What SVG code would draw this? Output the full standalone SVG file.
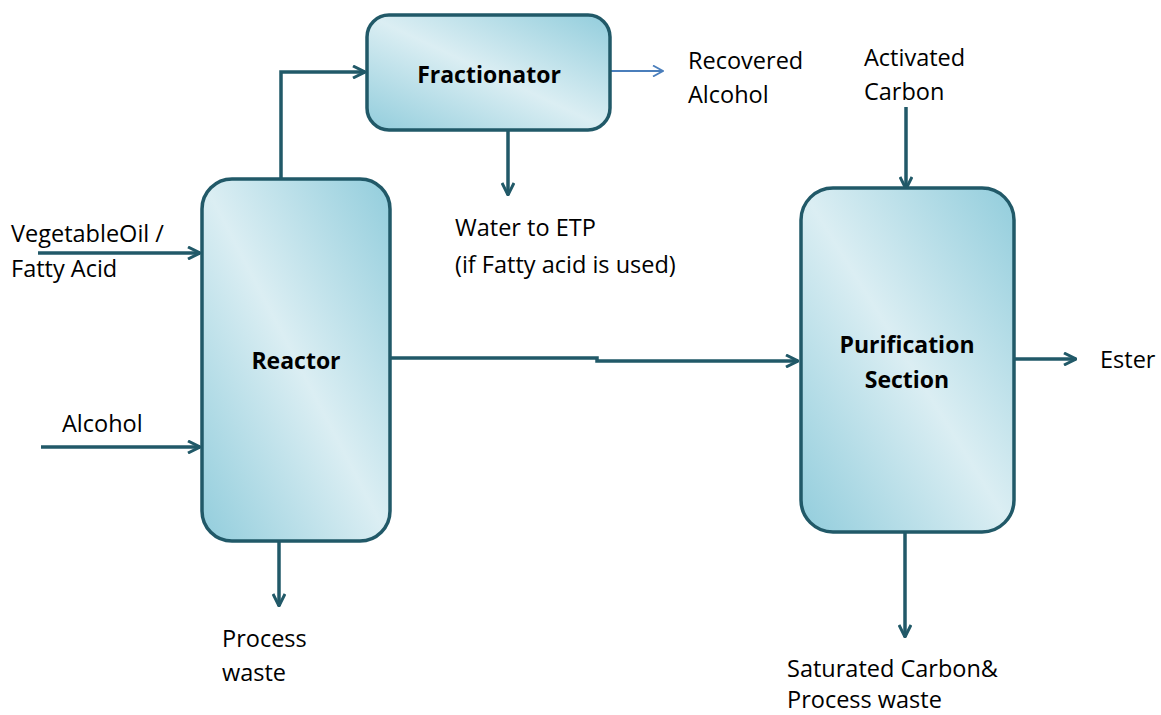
<svg xmlns="http://www.w3.org/2000/svg" width="1161" height="715" viewBox="0 0 1161 715">
<style>
.box{stroke:#215968;stroke-width:3.5}
.lbl{font-family:"Open Sans","Liberation Sans",sans-serif;font-size:23.5px;fill:#000}
.ttl{font-family:"Open Sans","Liberation Sans",sans-serif;font-size:23px;font-weight:bold;fill:#000;text-anchor:middle}
.c{fill:none;stroke:#215968;stroke-width:3.5}
.cb{fill:none;stroke:#4a7ebb;stroke-width:2}
</style>
<defs>
<linearGradient id="g" x1="1" y1="0" x2="0" y2="1">
<stop offset="0" stop-color="#92cddc"/>
<stop offset="0.5" stop-color="#dbeef3"/>
<stop offset="1" stop-color="#92cddc"/>
</linearGradient>
<marker id="a" viewBox="0 0 14 14" refX="13" refY="7" markerWidth="14" markerHeight="14" markerUnits="userSpaceOnUse" orient="auto">
<path d="M1 1 L13 7 L1 13" fill="none" stroke="#215968" stroke-width="3"/>
</marker>
<marker id="ab" viewBox="0 0 12 12" refX="11" refY="6" markerWidth="12" markerHeight="12" markerUnits="userSpaceOnUse" orient="auto">
<path d="M1 0.5 L11 6 L1 11.5" fill="none" stroke="#4a7ebb" stroke-width="1.8"/>
</marker>
</defs>
<g id="connectors">
<path class="c" d="M281 178 V72 H365" marker-end="url(#a)"/>
<path class="c" d="M508 130 V195" marker-end="url(#a)"/>
<path class="cb" d="M610 71 H663" marker-end="url(#ab)"/>
<path class="c" d="M38 253 H200" marker-end="url(#a)"/>
<path class="c" d="M41 447 H200" marker-end="url(#a)"/>
<path class="c" d="M390 358 H597 V361 H798" marker-end="url(#a)"/>
<path class="c" d="M279 541 V606" marker-end="url(#a)"/>
<path class="c" d="M906 107 V189" marker-end="url(#a)"/>
<path class="c" d="M1014 359 H1076" marker-end="url(#a)"/>
<path class="c" d="M905 532 V637" marker-end="url(#a)"/>
</g>
<g id="reactor">
<rect class="box" x="202" y="179" width="188" height="362" rx="30" fill="url(#g)"/>
<text class="ttl" x="296" y="369">Reactor</text>
</g>
<g id="fractionator">
<rect class="box" x="367" y="15" width="243" height="115" rx="22" fill="url(#g)"/>
<text class="ttl" x="489" y="83">Fractionator</text>
</g>
<g id="purification">
<rect class="box" x="801" y="188" width="213" height="344" rx="32" fill="url(#g)"/>
<text class="ttl" x="907" y="353">Purification</text>
<text class="ttl" x="907" y="388">Section</text>
</g>
<g id="labels">
<text class="lbl" x="688" y="69">Recovered</text>
<text class="lbl" x="688" y="103">Alcohol</text>
<text class="lbl" x="864" y="66">Activated</text>
<text class="lbl" x="864" y="100">Carbon</text>
<text class="lbl" x="455" y="236">Water to ETP</text>
<text class="lbl" x="455" y="273">(if Fatty acid is used)</text>
<text class="lbl" x="11" y="242">VegetableOil /</text>
<text class="lbl" x="11" y="277">Fatty Acid</text>
<text class="lbl" x="62" y="432">Alcohol</text>
<text class="lbl" x="1100" y="368">Ester</text>
<text class="lbl" x="222" y="647">Process</text>
<text class="lbl" x="222" y="681">waste</text>
<text class="lbl" x="787" y="677">Saturated Carbon&amp;</text>
<text class="lbl" x="787" y="708">Process waste</text>
</g>
</svg>
